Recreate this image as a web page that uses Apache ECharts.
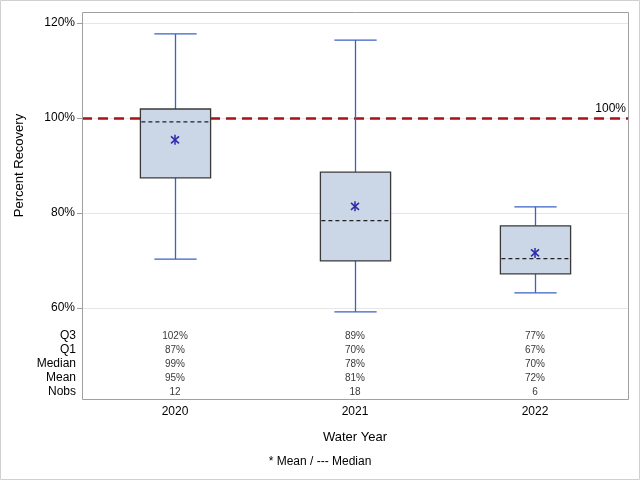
<!DOCTYPE html>
<html>
<head>
<meta charset="utf-8">
<script src="https://cdn.jsdelivr.net/npm/echarts@6/dist/echarts.min.js"></script>
<style>
  html, body { margin: 0; padding: 0; background: #fff; }
  #chart { width: 640px; height: 480px; }
</style>
</head>
<body>
<div id="chart"></div>
<script>
// water years
var years = ['2020', '2021', '2022'];
// box statistics, percent recovery
var whiskerLow  = [70.3, 59.2, 63.2];
var q1Values    = [87.4, 69.9, 67.2];
var medianVals  = [99.2, 78.4, 70.4];
var meanValues  = [95.4, 81.4, 71.6];
var q3Values    = [101.9, 88.6, 77.3];
var whiskerHigh = [117.7, 116.4, 81.3];
var nobs = [12, 18, 6];
// table rows under the plot
var tableRows = ['Q3', 'Q1', 'Median', 'Mean', 'Nobs'];
var yTicks = [60, 80, 100, 120];
var refLine = 100;

var FONT = '"Liberation Sans", Arial, sans-serif';

var boxData = years.map(function (y, i) {
  return [i, whiskerLow[i], q1Values[i], medianVals[i], q3Values[i], whiskerHigh[i], meanValues[i]];
});

var tableData = [];
years.forEach(function (y, i) {
  var vals = [q3Values[i], q1Values[i], medianVals[i], meanValues[i]];
  vals.forEach(function (v, r) {
    tableData.push([i, tableRows[r], Math.round(v) + '%']);
  });
  tableData.push([i, 'Nobs', String(nobs[i])]);
});

function renderBox(params, api) {
  var x = api.value(0);
  var lo = api.coord([x, api.value(1)]);
  var q1 = api.coord([x, api.value(2)]);
  var md = api.coord([x, api.value(3)]);
  var q3 = api.coord([x, api.value(4)]);
  var hi = api.coord([x, api.value(5)]);
  var mn = api.coord([x, api.value(6)]);
  var band = api.size([1, 0])[0];
  var bw = band * 0.39, cw = band * 0.235;
  var cx = Math.round(q1[0]) + 0.5;
  var blue = { stroke: '#3a62c4', lineWidth: 1.3 };
  var star = { stroke: '#2b2ba8', lineWidth: 1.5 };
  return {
    type: 'group',
    children: [
      { type: 'line', shape: { x1: cx, y1: q3[1], x2: cx, y2: hi[1] }, style: blue },
      { type: 'line', shape: { x1: cx, y1: q1[1], x2: cx, y2: lo[1] }, style: blue },
      { type: 'line', shape: { x1: cx - cw / 2, y1: hi[1], x2: cx + cw / 2, y2: hi[1] }, style: blue },
      { type: 'line', shape: { x1: cx - cw / 2, y1: lo[1], x2: cx + cw / 2, y2: lo[1] }, style: blue },
      { type: 'rect', shape: { x: cx - bw / 2, y: q3[1], width: bw, height: q1[1] - q3[1] },
        style: { fill: '#cbd6e6', stroke: '#3a3a3a', lineWidth: 1.3 } },
      { type: 'line', shape: { x1: cx - bw / 2 + 1, y1: md[1], x2: cx + bw / 2 - 1, y2: md[1] },
        style: { stroke: '#222', lineWidth: 1.3, lineDash: [4, 3] } },
      { type: 'line', shape: { x1: mn[0], y1: mn[1] - 5, x2: mn[0], y2: mn[1] + 5 }, style: star },
      { type: 'line', shape: { x1: mn[0] - 4, y1: mn[1] - 3.5, x2: mn[0] + 4, y2: mn[1] + 3.5 }, style: star },
      { type: 'line', shape: { x1: mn[0] - 4, y1: mn[1] + 3.5, x2: mn[0] + 4, y2: mn[1] - 3.5 }, style: star }
    ]
  };
}

var chart = echarts.init(document.getElementById('chart'));
chart.setOption({
  animation: false,
  textStyle: { fontFamily: FONT },
  title: {
    text: '* Mean / --- Median',
    left: 'center', top: 451,
    textStyle: { fontSize: 12, fontWeight: 'normal', color: '#000', fontFamily: FONT }
  },
  graphic: [
    { type: 'rect', shape: { x: 0.5, y: 0.5, width: 639, height: 479 },
      style: { fill: 'none', stroke: '#d0d0d0', lineWidth: 1 }, z: 100 },
    { type: 'rect', shape: { x: 82.5, y: 12.5, width: 546, height: 387 },
      style: { fill: 'none', stroke: '#a0a0a0', lineWidth: 1 }, z: 100 }
  ],
  grid: [
    { left: 82, width: 546, top: 23, height: 285 },
    { left: 85, width: 540, top: 23, height: 285 },
    { left: 85, width: 540, top: 329, height: 70 }
  ],
  xAxis: [
    { gridIndex: 0, type: 'category', data: years, show: false },
    { gridIndex: 1, type: 'category', data: years, show: false },
    {
      gridIndex: 2, type: 'category', data: years,
      name: 'Water Year', nameLocation: 'middle', nameGap: 32,
      nameTextStyle: { fontSize: 13, color: '#000' },
      axisLine: { lineStyle: { color: '#a0a0a0' } },
      axisTick: { alignWithLabel: true, length: 5, lineStyle: { color: '#b0b0b0' } },
      axisLabel: { fontSize: 12, color: '#000', margin: 7 }
    }
  ],
  yAxis: [
    {
      gridIndex: 0, type: 'value', min: yTicks[0], max: yTicks[yTicks.length - 1], interval: 20,
      name: 'Percent Recovery', nameLocation: 'middle', nameGap: 56,
      nameTextStyle: { fontSize: 13, color: '#000' },
      axisLine: { show: false },
      axisTick: { show: true, length: 5, lineStyle: { color: '#a0a0a0' } },
      axisLabel: { fontSize: 12, color: '#000', margin: 7, formatter: '{value}%' },
      splitLine: { lineStyle: { color: '#e6e6e6' } }
    },
    { gridIndex: 1, type: 'value', min: yTicks[0], max: yTicks[yTicks.length - 1], show: false,
      splitLine: { show: false } },
    {
      gridIndex: 2, type: 'category', data: tableRows, inverse: true, offset: 3,
      axisLine: { show: false }, axisTick: { show: false },
      axisLabel: { fontSize: 12, color: '#000', margin: 6, interval: 0 },
      splitLine: { show: false }
    }
  ],
  series: [
    {
      type: 'line', xAxisIndex: 0, yAxisIndex: 0, data: [], silent: true,
      markLine: {
        silent: true, symbol: 'none', z: 1,
        lineStyle: { color: '#a8121a', width: 2.5, type: [10, 6] },
        label: { show: true, position: 'insideEndTop', formatter: refLine + '%',
          color: '#000', fontSize: 12, distance: [2, 3] },
        data: [{ yAxis: refLine }]
      }
    },
    {
      type: 'custom', xAxisIndex: 1, yAxisIndex: 1, z: 5,
      renderItem: renderBox, data: boxData,
      encode: { x: 0, y: [1, 2, 3, 4, 5, 6] }
    },
    {
      type: 'scatter', xAxisIndex: 2, yAxisIndex: 2, symbolSize: 0,
      data: tableData, encode: { x: 0, y: 1 },
      label: { show: true, position: 'inside', formatter: function (p) { return p.value[2]; },
        fontSize: 10, color: '#000' }
    }
  ]
});
</script>
</body>
</html>
